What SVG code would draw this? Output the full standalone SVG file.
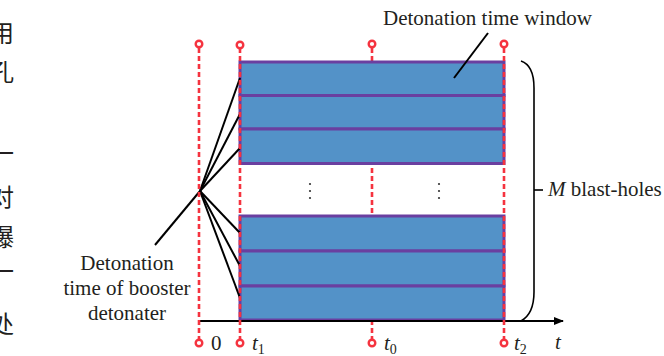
<svg xmlns="http://www.w3.org/2000/svg" width="664" height="356" viewBox="0 0 664 356">
<defs>
<style>
.txt{font-family:"Liberation Serif","Times New Roman",serif;font-size:21px;fill:#231f20}
.it{font-style:italic}
.sub{font-size:14px}
.cjk{font-family:"Noto Sans CJK SC",serif;font-size:24px;fill:#231f20;text-anchor:end}
.box{fill:#5392c8;stroke:#6a3fa0;stroke-width:3}
.red{stroke:#f5333f;stroke-width:2.6;stroke-dasharray:5 3;fill:none}
.pin{fill:#fff;stroke:#f5333f;stroke-width:2.4}
.blk{stroke:#000;stroke-width:2;fill:none}
.dot{fill:#333}
</style>
<marker id="arr" viewBox="0 0 10 8" refX="9" refY="4" markerWidth="10" markerHeight="8" markerUnits="userSpaceOnUse" orient="auto">
<path d="M0,0 L10,4 L0,8 z" fill="#000"/>
</marker>
</defs>
<rect width="664" height="356" fill="#fff"/>

<g id="page-fragments">
<text class="cjk" x="14" y="42">用</text>
<text class="cjk" x="14" y="81">孔</text>
<text class="cjk" x="14" y="162">一</text>
<text class="cjk" x="14" y="206">对</text>
<text class="cjk" x="14" y="246">爆</text>
<text class="cjk" x="14" y="280">一</text>
<text class="cjk" x="14" y="333">处</text>
</g>

<g id="t0-line">
<line class="red" x1="372" y1="48" x2="372" y2="339"/>
<circle class="pin" cx="372" cy="44" r="3.3"/>
<circle class="pin" cx="372" cy="343" r="3.3"/>
</g>

<g id="blast-holes-top">
<rect class="box" x="240" y="62" width="264" height="33.5"/>
<rect class="box" x="240" y="95.5" width="264" height="33.5"/>
<rect class="box" x="240" y="129" width="264" height="34.5"/>
</g>
<g id="blast-holes-bottom">
<rect class="box" x="240" y="216" width="264" height="35"/>
<rect class="box" x="240" y="251" width="264" height="35"/>
<rect class="box" x="240" y="286" width="264" height="34"/>
</g>

<g id="ellipsis">
<circle class="dot" cx="310" cy="184" r="1.1"/>
<circle class="dot" cx="310" cy="191" r="1.1"/>
<circle class="dot" cx="310" cy="198" r="1.1"/>
<circle class="dot" cx="439" cy="184" r="1.1"/>
<circle class="dot" cx="439" cy="191" r="1.1"/>
<circle class="dot" cx="439" cy="198" r="1.1"/>
</g>

<g id="connectors">
<line class="blk" x1="200" y1="191" x2="240" y2="78"/>
<line class="blk" x1="200" y1="191" x2="240" y2="114"/>
<line class="blk" x1="200" y1="191" x2="240" y2="148"/>
<line class="blk" x1="200" y1="191" x2="240" y2="233"/>
<line class="blk" x1="200" y1="191" x2="240" y2="266"/>
<line class="blk" x1="200" y1="191" x2="240" y2="298"/>
<line class="blk" x1="200" y1="191" x2="155" y2="245"/>
<line class="blk" x1="488" y1="33" x2="454" y2="78"/>
<path d="M521,61 C530,64 534,74 534,88 V292 C534,306 530,316 521,321" fill="none" stroke="#000" stroke-width="1.6"/>
<line x1="534" y1="190" x2="543" y2="190" stroke="#000" stroke-width="1.6"/>
<line x1="198" y1="321" x2="563" y2="321" stroke="#000" stroke-width="2" marker-end="url(#arr)"/>
</g>

<g id="time-0">
<line class="red" x1="199" y1="48" x2="199" y2="339"/>
<circle class="pin" cx="199" cy="44" r="3.3"/>
<circle class="pin" cx="199" cy="343" r="3.3"/>
<text class="txt" x="211" y="350">0</text>
</g>
<g id="time-t1">
<line class="red" x1="240" y1="48" x2="240" y2="339"/>
<circle class="pin" cx="240" cy="45" r="3.3"/>
<circle class="pin" cx="240" cy="343" r="3.3"/>
<text class="txt" x="252" y="350"><tspan class="it">t</tspan><tspan class="sub" dy="4">1</tspan></text>
</g>
<g id="time-t0">
<text class="txt" x="384" y="350"><tspan class="it">t</tspan><tspan class="sub" dy="4">0</tspan></text>
</g>
<g id="time-t2">
<line class="red" x1="504" y1="48" x2="504" y2="339"/>
<circle class="pin" cx="504" cy="44" r="3.3"/>
<circle class="pin" cx="504" cy="343" r="3.3"/>
<text class="txt" x="514" y="350"><tspan class="it">t</tspan><tspan class="sub" dy="4">2</tspan></text>
</g>
<g id="axis-label">
<text class="txt it" x="555" y="349">t</text>
</g>

<g id="label-window">
<text class="txt" x="383" y="25">Detonation time window</text>
</g>
<g id="label-holes">
<text class="txt" x="548" y="196"><tspan class="it">M</tspan> blast-holes</text>
</g>
<g id="label-booster">
<text class="txt" x="127" y="270" text-anchor="middle">Detonation</text>
<text class="txt" x="127" y="295" text-anchor="middle">time of booster</text>
<text class="txt" x="127" y="320" text-anchor="middle">detonater</text>
</g>
</svg>
